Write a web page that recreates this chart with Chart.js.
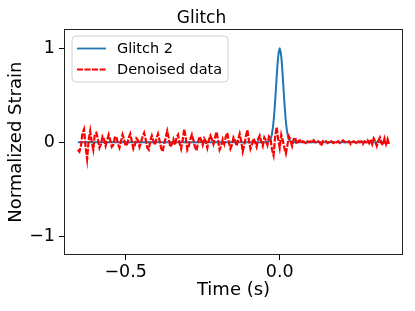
<!DOCTYPE html>
<html>
<head>
<meta charset="utf-8">
<script src="https://cdn.jsdelivr.net/npm/chart.js@4.4.0/dist/chart.umd.min.js"></script>
<style>
  html, body { margin: 0; padding: 0; background: #fff; }
  canvas { display: block; }
</style>
</head>
<body>
<canvas id="chart" width="415" height="311"></canvas>
<script>
    "use strict";

    // Glitch 2 (model)
    var glitchTime = [-0.655, -0.05, -0.04, -0.035, -0.03, -0.025, -0.02, -0.015, -0.01, -0.005, 0.0,
                      0.005, 0.01, 0.015, 0.02, 0.025, 0.03, 0.035, 0.04, 0.05, 0.355];
    var glitchValue = [0, 0, 0.002, 0.01, 0.03, 0.09, 0.22, 0.43, 0.69, 0.91, 1.0,
                       0.91, 0.69, 0.43, 0.22, 0.09, 0.03, 0.01, 0.002, 0, 0];

    // Denoised data, sampled every 5 ms from -0.655 s
    var sampleStart = -0.655;
    var sampleStep = 0.005;
    var denoised = [
        -0.08, -0.10, -0.04, 0.10, 0.14, -0.05, -0.18, 0.02, 0.12, 0.00,
        -0.08, 0.09, 0.10, 0.03, -0.06, -0.02, 0.06, 0.03, -0.04, 0.02,
        0.08, 0.02, -0.05, -0.03, 0.05, 0.06, -0.02, -0.06, 0.01, 0.08,
        0.03, -0.04, -0.02, 0.05, 0.09, 0.01, -0.07, -0.03, 0.04, 0.02,
        -0.05, 0.00, 0.06, 0.10, 0.03, -0.06, -0.08, 0.02, 0.07, 0.01,
        -0.03, 0.04, 0.09, 0.02, -0.06, -0.10, -0.02, 0.05, 0.12, 0.04,
        -0.05, -0.02, 0.03, -0.03, 0.05, 0.08, -0.01, -0.07, 0.02, 0.14,
        0.05, -0.08, -0.04, 0.03, 0.08, 0.02, -0.05, -0.09, 0.00, 0.06,
        0.02, -0.03, 0.04, 0.01, -0.06, 0.02, 0.07, 0.03, -0.02, 0.05,
        0.11, 0.02, -0.08, -0.04, 0.03, -0.02, 0.06, 0.10, 0.00, -0.07,
        -0.03, 0.05, 0.02, -0.04, 0.03, 0.09, 0.01, -0.10, -0.03, 0.06,
        0.13, 0.02, -0.07, -0.02, 0.04, 0.00, -0.05, 0.03, 0.07, 0.01,
        -0.04, 0.05, 0.02, -0.03, 0.06, 0.04, -0.08, -0.14, 0.05, 0.16,
        0.03, -0.06, 0.08, 0.02, -0.06, -0.12, -0.03, 0.06, 0.02, -0.04,
        0.03, 0.05, -0.02, 0.01, 0.02, -0.01, 0.01, 0.00, -0.01, 0.01,
        0.00, 0.01, -0.01, 0.02, 0.00, -0.01, 0.01, 0.00, -0.04, 0.01,
        0.00, 0.01, -0.01, 0.00, 0.02, 0.00, -0.01, 0.01, 0.00, 0.01,
        -0.01, 0.00, 0.02, 0.01, -0.01, 0.00, 0.01, -0.02, 0.00, 0.01,
        0.00, -0.01, 0.01, 0.00, 0.01, -0.02, 0.01, 0.00, 0.02, -0.01,
        0.03, -0.02, 0.04, 0.01, -0.04, 0.02, 0.05, -0.01, -0.03, 0.04,
        -0.02, 0.03, -0.03
    ];

    var xTicks = [-0.5, 0.0];
    var yTicks = [-1, 0, 1];

    var FONT = "'DejaVu Sans', sans-serif";

    var glitchPoints = glitchTime.map(function (t, i) { return {x: t, y: glitchValue[i]}; });
    var denoisedPoints = denoised.map(function (v, i) { return {x: sampleStart + i * sampleStep, y: v}; });

    function fmt(v, digits) {
        var s = v.toFixed(digits);
        return s.replace('-', '\u2212');
    }

    // Frame + legend box drawn like matplotlib
    var framePlugin = {
        id: 'frame',
        afterDraw: function (chart) {
            var ctx = chart.ctx;
            var a = chart.chartArea;
            ctx.save();
            ctx.strokeStyle = '#222';
            ctx.lineWidth = 1;
            ctx.strokeRect(Math.round(a.left) + 0.5, Math.round(a.top) + 0.5,
                Math.round(a.right - a.left) - 1, Math.round(a.bottom - a.top) - 1);

            // legend
            var bx = 72, by = 36, bw = 156, bh = 46, r = 4;
            ctx.beginPath();
            ctx.moveTo(bx + r, by);
            ctx.arcTo(bx + bw, by, bx + bw, by + bh, r);
            ctx.arcTo(bx + bw, by + bh, bx, by + bh, r);
            ctx.arcTo(bx, by + bh, bx, by, r);
            ctx.arcTo(bx, by, bx + bw, by, r);
            ctx.closePath();
            ctx.fillStyle = 'rgba(255,255,255,0.8)';
            ctx.fill();
            ctx.strokeStyle = '#d0d0d0';
            ctx.lineWidth = 1;
            ctx.stroke();

            ctx.font = '14.5px ' + FONT;
            ctx.textBaseline = 'middle';
            ctx.fillStyle = '#000';
            var rows = [48.5, 69.5];
            chart.data.datasets.forEach(function (ds, i) {
                ctx.beginPath();
                ctx.strokeStyle = ds.borderColor;
                ctx.lineWidth = 1.8;
                ctx.setLineDash(ds.borderDash || []);
                ctx.moveTo(77, rows[i]);
                ctx.lineTo(106, rows[i]);
                ctx.stroke();
                ctx.setLineDash([]);
                ctx.fillText(ds.label, 117, rows[i] + 1);
            });
            ctx.restore();
        }
    };

    var ctx = document.getElementById('chart').getContext('2d');
    var myChart = new Chart(ctx, {
        type: 'line',
        data: {
            datasets: [{
                label: 'Glitch 2',
                data: glitchPoints,
                borderColor: '#1f77b4',
                borderWidth: 2,
                pointRadius: 0,
                tension: 0.3,
                fill: false,
                order: 2
            }, {
                label: 'Denoised data',
                data: denoisedPoints,
                borderColor: '#ff0000',
                borderWidth: 2.2,
                borderDash: [6, 1.5],
                pointRadius: 0,
                tension: 0,
                fill: false,
                order: 1
            }]
        },
        options: {
            responsive: false,
            animation: false,
            layout: {
                padding: {left: 0, right: 12, top: 0, bottom: 0}
            },
            plugins: {
                legend: {display: false},
                tooltip: {enabled: false},
                title: {
                    display: true,
                    text: 'Glitch',
                    color: '#000',
                    font: {family: FONT, size: 17, weight: 'normal'},
                    padding: {top: 8, bottom: 1}
                }
            },
            scales: {
                x: {
                    type: 'linear',
                    min: -0.70,
                    max: 0.40,
                    afterBuildTicks: function (scale) {
                        scale.ticks = xTicks.map(function (v) { return {value: v}; });
                    },
                    afterFit: function (scale) { scale.height = 56; },
                    ticks: {
                        color: '#000',
                        font: {family: FONT, size: 17.5},
                        padding: 2,
                        maxRotation: 0,
                        callback: function (v) { return fmt(v, 1); }
                    },
                    grid: {
                        drawOnChartArea: false,
                        drawTicks: true,
                        tickLength: 5,
                        color: '#000'
                    },
                    border: {display: false},
                    title: {
                        display: true,
                        text: 'Time (s)',
                        color: '#000',
                        font: {family: FONT, size: 18},
                        padding: {top: 0, bottom: 10}
                    }
                },
                y: {
                    type: 'linear',
                    min: -1.2,
                    max: 1.2,
                    afterBuildTicks: function (scale) {
                        scale.ticks = yTicks.map(function (v) { return {value: v}; });
                    },
                    afterFit: function (scale) { scale.width = 64; },
                    ticks: {
                        color: '#000',
                        font: {family: FONT, size: 17.5},
                        padding: 4,
                        callback: function (v) { return fmt(v, 0); }
                    },
                    grid: {
                        drawOnChartArea: false,
                        drawTicks: true,
                        tickLength: 5,
                        color: '#000'
                    },
                    border: {display: false},
                    title: {
                        display: true,
                        text: 'Normalized Strain',
                        color: '#000',
                        font: {family: FONT, size: 18},
                        padding: {top: 6, bottom: 0}
                    }
                }
            }
        },
        plugins: [framePlugin]
    });
</script>
</body>
</html>
